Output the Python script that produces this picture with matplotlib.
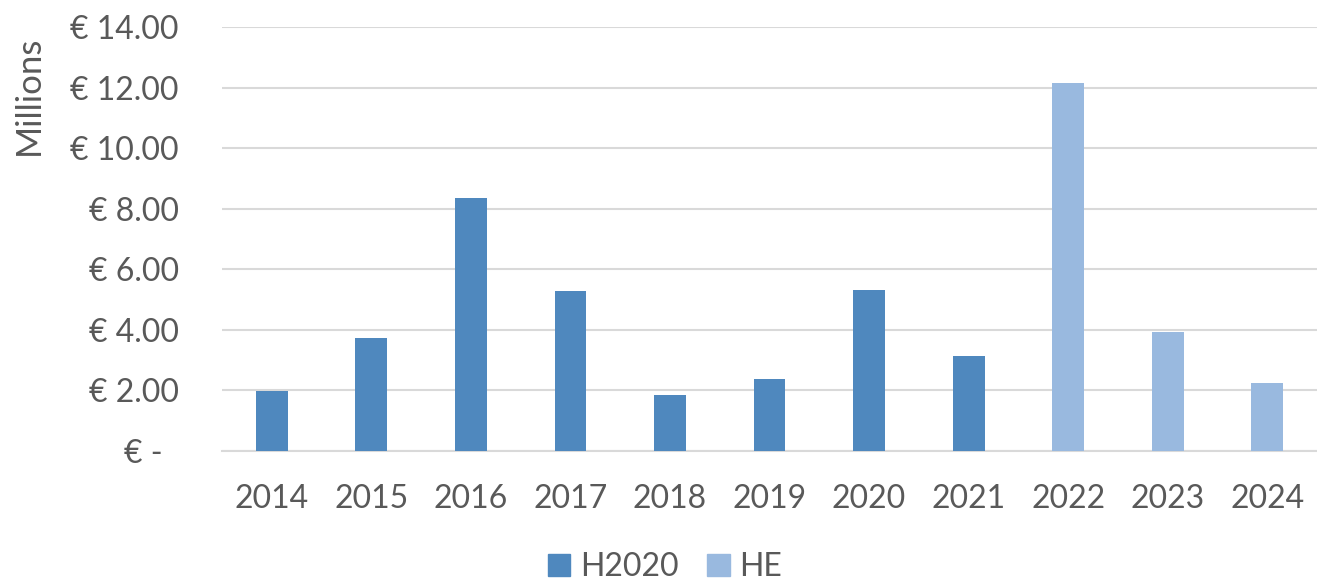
import matplotlib.pyplot as plt
import numpy as np
from matplotlib.patches import Patch

# Data (millions of euro)
years = ["2014", "2015", "2016", "2017", "2018", "2019", "2020", "2021", "2022", "2023", "2024"]
h2020 = [1.98, 3.74, 8.37, 5.30, 1.85, 2.37, 5.33, 3.15, 0, 0, 0]
he = [0, 0, 0, 0, 0, 0, 0, 0, 12.17, 3.92, 2.24]
y_ticks = [0, 2, 4, 6, 8, 10, 12, 14]
y_tick_labels = ["€ -  ", "€ 2.00", "€ 4.00", "€ 6.00", "€ 8.00", "€ 10.00", "€ 12.00", "€ 14.00"]

# Settings
c_h2020 = "#4F88BE"
c_he = "#99B9DF"
text_color = "#595959"
grid_color = "#D9D9D9"
fs = 23
plt.rcParams['font.family'] = ['Lato', 'DejaVu Sans']

fig = plt.figure(figsize=(13.17, 5.8), dpi=100)
ax = fig.add_axes([0.1686, 0.2224, 0.8314, 0.7306])

x = np.arange(len(years))
w = 0.32
ax.bar(x, h2020, width=w, color=c_h2020, zorder=3)
ax.bar(x, he, width=w, color=c_he, zorder=3)

ax.set_xlim(-0.5, len(years) - 0.5)
ax.set_ylim(0, 14)
ax.set_yticks(y_ticks)
ax.set_yticklabels(y_tick_labels)
ax.set_xticks(x)
ax.set_xticklabels(years)

ax.grid(axis='y', color=grid_color, linewidth=1.5, zorder=0)
for s in ["top", "right", "left"]:
    ax.spines[s].set_visible(False)
ax.spines["bottom"].set_color(grid_color)
ax.spines["bottom"].set_linewidth(1.5)

ax.tick_params(axis='both', length=0, labelsize=fs, colors=text_color)
ax.tick_params(axis='y', pad=31)
ax.tick_params(axis='x', pad=24)

fig.text(0.022, 0.836, "Millions", rotation=90, ha='center', va='center',
         fontsize=25, color=text_color)

handles = [Patch(color=c_h2020, label="H2020"), Patch(color=c_he, label="HE")]
fig.legend(handles=handles, loc='center', bbox_to_anchor=(0.505, 0.022), ncol=2,
           frameon=False, fontsize=fs, labelcolor=text_color,
           handlelength=0.7, handleheight=0.7, handletextpad=0.3, columnspacing=0.9)

plt.savefig("out.png", dpi=100)
